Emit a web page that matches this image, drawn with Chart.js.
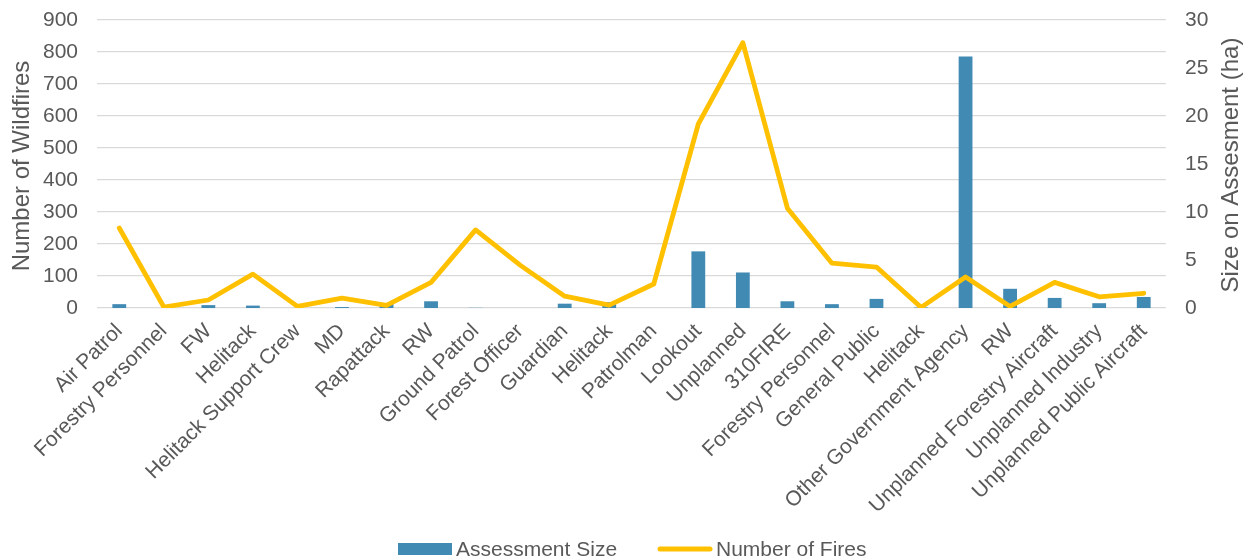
<!DOCTYPE html>
<html>
<head>
<meta charset="utf-8">
<script src="https://cdn.jsdelivr.net/npm/chart.js@4"></script>
<style>
html,body{margin:0;padding:0;background:#fff;}
#wrap{width:1243px;height:560px;position:relative;}
</style>
</head>
<body>
<div id="wrap"><canvas id="c" width="1243" height="560"></canvas></div>
<script>
const categories = ["Air Patrol","Forestry Personnel","FW","Helitack","Helitack Support Crew","MD","Rapattack","RW","Ground Patrol","Forest Officer","Guardian","Helitack","Patrolman","Lookout","Unplanned","310FIRE","Forestry Personnel","General Public","Helitack","Other Government Agency","RW","Unplanned Forestry Aircraft","Unplanned Industry","Unplanned Public Aircraft"];
const assessmentSize = [0.4,0,0.3,0.25,0,0.1,0.5,0.7,0.02,0,0.45,0.6,0,5.9,3.7,0.7,0.4,0.95,0.05,26.2,2.0,1.05,0.5,1.15];
const numberOfFires = [250,3,25,106,5,31,8,80,244,134,37,9,75,575,829,312,140,128,2,97,5,80,35,46];
const leftTicks = [0,100,200,300,400,500,600,700,800,900];
const rightTicks = [0,5,10,15,20,25,30];
const leftTitle = "Number of Wildfires";
const rightTitle = "Size on Assesment (ha)";

const FONT = "'Liberation Sans', Arial, sans-serif";
const TXT = "#595959";
const BLUE = "#418AB3";
const GOLD = "#FFC000";

const customDraw = {
  id: 'customDraw',
  afterDraw(chart) {
    const ctx = chart.ctx;
    ctx.save();
    ctx.fillStyle = TXT;
    ctx.font = "24px " + FONT;
    ctx.textAlign = 'center';
    ctx.textBaseline = 'middle';
    ctx.save();
    ctx.translate(22, 166);
    ctx.rotate(-Math.PI / 2);
    ctx.fillText(leftTitle, 0, 0);
    ctx.restore();
    ctx.save();
    ctx.translate(1231, 165);
    ctx.rotate(-Math.PI / 2);
    ctx.fillText(rightTitle, 0, 0);
    ctx.restore();
    // legend
    const ly = 549;
    ctx.font = "21px " + FONT;
    ctx.textAlign = 'left';
    ctx.fillStyle = BLUE;
    ctx.fillRect(398, ly - 6, 54, 12);
    ctx.fillStyle = TXT;
    ctx.fillText("Assessment Size", 456, ly + 1);
    ctx.strokeStyle = GOLD;
    ctx.lineWidth = 5;
    ctx.lineCap = 'round';
    ctx.beginPath();
    ctx.moveTo(660, ly);
    ctx.lineTo(710, ly);
    ctx.stroke();
    ctx.fillStyle = TXT;
    ctx.fillText("Number of Fires", 716, ly + 1);
    ctx.restore();
  }
};

new Chart(document.getElementById('c'), {
  data: {
    labels: categories,
    datasets: [
      {
        type: 'line',
        label: 'Number of Fires',
        data: numberOfFires,
        yAxisID: 'y',
        borderColor: GOLD,
        backgroundColor: GOLD,
        borderWidth: 4.8,
        pointRadius: 0,
        tension: 0,
        borderJoinStyle: 'round',
        borderCapStyle: 'round',
        order: 0
      },
      {
        type: 'bar',
        label: 'Assessment Size',
        data: assessmentSize,
        yAxisID: 'y1',
        backgroundColor: BLUE,
        categoryPercentage: 1,
        barPercentage: 0.31,
        order: 1
      }
    ]
  },
  options: {
    responsive: false,
    animation: false,
    devicePixelRatio: 1,
    layout: { padding: { top: 20, left: 0, right: 0, bottom: 0 } },
    plugins: { legend: { display: false }, tooltip: { enabled: false } },
    scales: {
      x: {
        grid: { display: false, drawTicks: false },
        border: { display: false },
        ticks: {
          color: TXT,
          font: { family: FONT, size: 21 },
          minRotation: 45,
          maxRotation: 45,
          autoSkip: false,
          padding: 11
        },
        afterFit(s) { s.height = 252; }
      },
      y: {
        position: 'left',
        min: 0, max: 900,
        afterBuildTicks(s) { s.ticks = leftTicks.map(v => ({ value: v })); },
        grid: { color: '#D9D9D9', lineWidth: 1.3, drawTicks: true, tickLength: 19, tickColor: 'rgba(0,0,0,0)' },
        border: { display: false },
        ticks: { color: TXT, font: { family: FONT, size: 21 }, padding: 0 },
        afterFit(s) { s.width = 97; }
      },
      y1: {
        position: 'right',
        min: 0, max: 30,
        afterBuildTicks(s) { s.ticks = rightTicks.map(v => ({ value: v })); },
        grid: { display: false, drawTicks: true, tickLength: 19 },
        border: { display: false },
        ticks: { color: TXT, font: { family: FONT, size: 21 }, padding: 0 },
        afterFit(s) { s.width = 77; }
      }
    }
  },
  plugins: [customDraw]
});
</script>
</body>
</html>
